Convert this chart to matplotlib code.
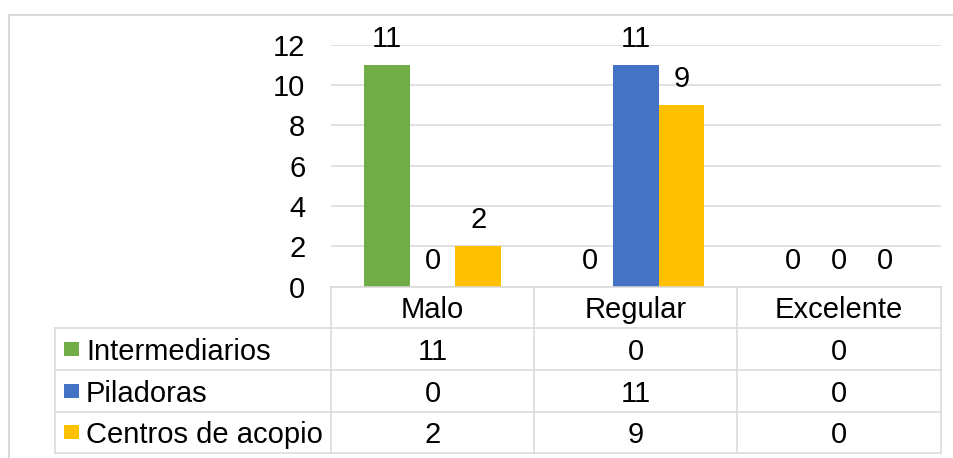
import matplotlib
matplotlib.use("Agg")
import matplotlib.pyplot as plt
from matplotlib.lines import Line2D
from matplotlib.patches import Rectangle
import numpy as np

plt.rcParams['font.family'] = ['Liberation Sans', 'DejaVu Sans']

categories = ["Malo", "Regular", "Excelente"]
series_names = ["Intermediarios", "Piladoras", "Centros de acopio"]
intermediarios = [11, 0, 0]
piladoras = [0, 11, 0]
centros_acopio = [2, 9, 0]
series_values = [intermediarios, piladoras, centros_acopio]
colors = ["#70AD47", "#4472C4", "#FFC000"]
y_ticks = [0, 2, 4, 6, 8, 10, 12]

W, H = 954, 458
FS = 21
GRID = "#D9D9D9"

fig = plt.figure(figsize=(W / 100, H / 100), dpi=100)

# plot area in pixel coordinates
px_left, px_right = 331, 940.7
px_top, px_bottom = 44.7, 286.7
ax = fig.add_axes([px_left / W, (H - px_bottom) / H,
                   (px_right - px_left) / W, (px_bottom - px_top) / H])

x = np.arange(len(categories))
bar_w = 0.225
offsets = [-bar_w, 0, bar_w]
for vals, off, col in zip(series_values, offsets, colors):
    bars = ax.bar(x + off, vals, width=bar_w, color=col, zorder=3)
    for b, v in zip(bars, vals):
        ax.annotate(f"{v}", (b.get_x() + b.get_width() / 2, v),
                    xytext=(0, 13), textcoords="offset points",
                    ha="center", va="baseline", fontsize=FS, color="black")

ax.set_xlim(-0.5, len(categories) - 0.5)
ax.set_ylim(0, 12)
ax.set_yticks(y_ticks)
ax.set_yticklabels([str(t) for t in y_ticks], fontsize=FS)
ax.tick_params(axis="y", length=0, pad=18.5)
ax.set_xticks([])
ax.yaxis.grid(True, color=GRID, linewidth=1.1, zorder=0)
ax.set_axisbelow(True)
for s in ax.spines.values():
    s.set_visible(False)

# data table beneath the plot, drawn in pixel space
def fx(px):
    return px / W

def fy(py):
    return (H - py) / H

def hline(x0, x1, y, lw=1.1, color=GRID):
    fig.add_artist(Line2D([fx(x0), fx(x1)], [fy(y), fy(y)], color=color,
                          linewidth=lw, transform=fig.transFigure))

def vline(x, y0, y1, lw=1.1, color=GRID):
    fig.add_artist(Line2D([fx(x), fx(x)], [fy(y0), fy(y1)], color=color,
                          linewidth=lw, transform=fig.transFigure))

tbl_left = 55
col_edges = [px_left + (px_right - px_left) * i / len(categories)
             for i in range(len(categories) + 1)]
row_edges = [286.7, 328.3, 370.0, 411.7, 453.0]

# header row (categories)
hline(px_left, px_right, row_edges[0])
for i in range(1, len(row_edges)):
    hline(tbl_left, px_right, row_edges[i])
for cx in col_edges:
    vline(cx, row_edges[0], row_edges[-1])
vline(tbl_left, row_edges[1], row_edges[-1])

for j, cat in enumerate(categories):
    cx = (col_edges[j] + col_edges[j + 1]) / 2
    cy = (row_edges[0] + row_edges[1]) / 2
    fig.text(fx(cx), fy(cy), cat, ha="center", va="center_baseline", fontsize=FS)

for i, (name, vals, col) in enumerate(zip(series_names, series_values, colors)):
    cy = (row_edges[i + 1] + row_edges[i + 2]) / 2
    fig.add_artist(Rectangle((fx(64), fy(cy + 7)), 15 / W, 14 / H,
                             transform=fig.transFigure, facecolor=col,
                             edgecolor="none"))
    fig.text(fx(86), fy(cy), name, ha="left", va="center_baseline", fontsize=FS)
    for j, v in enumerate(vals):
        cx = (col_edges[j] + col_edges[j + 1]) / 2
        fig.text(fx(cx), fy(cy), str(v), ha="center", va="center_baseline",
                 fontsize=FS)

# chart area border
hline(9, W, 15, lw=1.5)
vline(9.5, 15, H, lw=1.5)

fig.savefig("out.png", dpi=100)
